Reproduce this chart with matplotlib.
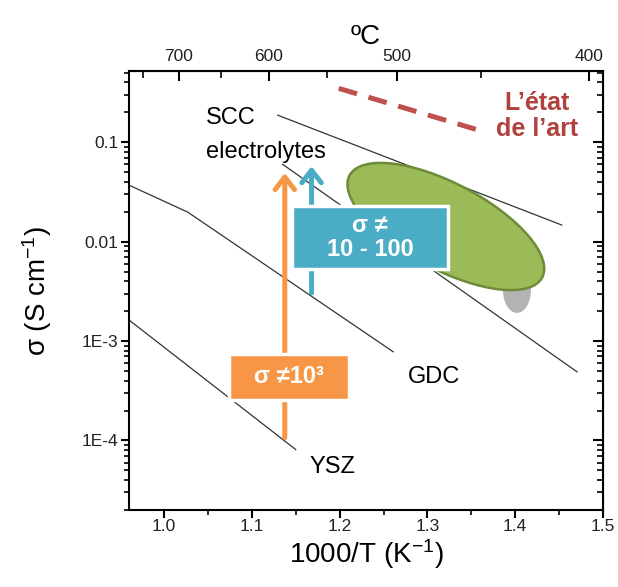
import numpy as np
import matplotlib
matplotlib.use("Agg")
import matplotlib.pyplot as plt
from matplotlib.patches import Ellipse, Rectangle
from matplotlib.transforms import ScaledTranslation

plt.rcParams['font.family'] = ['Liberation Sans', 'DejaVu Sans']
plt.rcParams['mathtext.fontset'] = 'custom'
plt.rcParams['mathtext.rm'] = 'Liberation Sans'
plt.rcParams['mathtext.default'] = 'rm'

# conductivity lines, x = 1000/T (K^-1), y = sigma (S/cm)
scc1_x = [1.1295, 1.453]
scc1_y = [0.187, 0.0147]
scc2_x = [1.135, 1.4705]
scc2_y = [0.060, 4.9e-4]
gdc_x = [0.96, 1.027, 1.261]
gdc_y = [0.037, 0.0198, 7.8e-4]
ysz_x = [0.96, 1.150]
ysz_y = [1.63e-3, 8.1e-5]

# "etat de l'art" dashed trend
art_x = [1.199, 1.3625]
art_y = [0.348, 0.129]

# arrows (x, bottom, tip)
orange_arrow = (1.1375, 1.07e-4, 0.049)
blue_arrow = (1.168, 3.05e-3, 0.0574)

# top axis (degC) labels and where they sit on the 1000/T scale
top_labels = ['700', '600', '500', '400']
top_major = [1.017, 1.119, 1.265, 1.484]
top_minor = [0.976, 1.065, 1.186, 1.361]

x_ticks = [1.0, 1.1, 1.2, 1.3, 1.4, 1.5]
y_ticks = [1e-4, 1e-3, 1e-2, 1e-1]
y_ticklabels = ['1E-4', '1E-3', '0.01', '0.1']

fig = plt.figure(figsize=(6.18, 5.87), dpi=100)
ax = fig.add_axes([0.2087, 0.1312, 0.767, 0.7478])
ax.set_yscale('log')
ax.set_xlim(0.96, 1.5)
ax.set_ylim(2.0e-5, 0.52)

lc = '#333333'
for xs, ys in [(scc1_x, scc1_y), (scc2_x, scc2_y), (gdc_x, gdc_y), (ysz_x, ysz_y)]:
    ax.plot(xs, ys, color=lc, lw=0.9, zorder=2)

ax.plot(art_x, art_y, color='#C0504D', lw=3.6, dashes=(3.8, 2.4), zorder=3)


def anchored(cx, cy):
    # patch sized in inches, centred on a data point
    return fig.dpi_scale_trans + ScaledTranslation(cx, cy, ax.transData)


# grey blob under the green ellipse
ax.add_patch(Ellipse((0, 0), 0.28, 0.46, facecolor='#B3B3B3', edgecolor='none',
                     transform=anchored(1.402, 3.27e-3), zorder=3))
# green state-of-the-art ellipse
ax.add_patch(Ellipse((0, 0), 2.18, 0.86, angle=-27.9, facecolor='#9BBB59',
                     edgecolor='#6E8B37', lw=1.8, transform=anchored(1.321, 0.0142), zorder=4))

# arrows
for (ax_x, y0, y1), col in [(orange_arrow, '#F79646'), (blue_arrow, '#4BACC6')]:
    ax.annotate('', xy=(ax_x, y1), xytext=(ax_x, y0),
                arrowprops=dict(arrowstyle='->,head_length=0.45,head_width=0.35',
                                lw=3.6, color=col, mutation_scale=20,
                                shrinkA=0, shrinkB=0), zorder=5)

# boxes
for (cx, cy), (w, h), col, txt in [((1.235, 0.011), (1.56, 0.63), '#4BACC6', 'σ ≠\n10 - 100'),
                                   ((1.142, 4.37e-4), (1.20, 0.46), '#F79646', 'σ ≠10³')]:
    ax.add_patch(Rectangle((-w / 2 + 0.02, -h / 2 - 0.02), w, h, facecolor='#999999',
                           alpha=0.35, edgecolor='none', transform=anchored(cx, cy), zorder=6))
    ax.add_patch(Rectangle((-w / 2, -h / 2), w, h, facecolor=col, edgecolor='white',
                           lw=2.5, transform=anchored(cx, cy), zorder=7))
    ax.text(cx, cy, txt, color='white', fontsize=17, fontweight='bold', ha='center',
            va='center', linespacing=1.1, zorder=8)

# labels
ax.text(1.0477, 0.174, 'SCC', fontsize=17, va='center', ha='left')
ax.text(1.0477, 0.0794, 'electrolytes', fontsize=17, va='center', ha='left')
ax.text(1.308, 4.4e-4, 'GDC', fontsize=17, va='center', ha='center')
ax.text(1.192, 5.45e-5, 'YSZ', fontsize=17, va='center', ha='center')
ax.text(1.425, 0.182, 'L’état\nde l’art', fontsize=18, fontweight='bold', color='#B0413E',
        va='center', ha='center', linespacing=1.1)

# axes styling
for s in ax.spines.values():
    s.set_linewidth(1.5)
ax.set_xticks(x_ticks)
ax.set_xticklabels(['%.1f' % v for v in x_ticks])
ax.set_xticks(np.arange(1.05, 1.5, 0.1), minor=True)
ax.set_yticks(y_ticks)
ax.set_yticklabels(y_ticklabels)
ax.tick_params(axis='both', which='major', direction='out', length=5.5, width=1.5,
               labelsize=12.5, labelcolor='#222222', pad=2)
ax.tick_params(axis='x', which='major', pad=1)
ax.tick_params(axis='both', which='minor', direction='out', length=3.5, width=1.2)
ax.tick_params(axis='y', which='minor', labelleft=False)

ax.set_xlabel('1000/T (K$^{-1}$)', fontsize=20, labelpad=2)
ax.set_ylabel('σ (S cm$^{-1}$)', fontsize=20, labelpad=20)

# right side: inward ticks, no labels
ry = ax.secondary_yaxis('right')
ry.set_yscale('log')
ry.set_yticks(y_ticks)
ry.tick_params(which='major', direction='in', length=7, width=1.5, labelright=False)
ry.tick_params(which='minor', direction='in', length=4, width=1.2, labelright=False)
ry.yaxis.set_minor_formatter(plt.NullFormatter())
ry.yaxis.set_major_formatter(plt.NullFormatter())

# top: temperature in degC
tx = ax.secondary_xaxis('top')
tx.set_xticks(top_major)
tx.set_xticklabels(top_labels)
tx.set_xticks(top_minor, minor=True)
tx.tick_params(which='major', direction='in', length=7, width=1.5, labelsize=12.5,
               labelcolor='#222222', pad=5)
tx.tick_params(which='minor', direction='in', length=5, width=1.2)
tx.set_xlabel('ºC', fontsize=20, labelpad=4)

fig.savefig('out.png', dpi=100)
